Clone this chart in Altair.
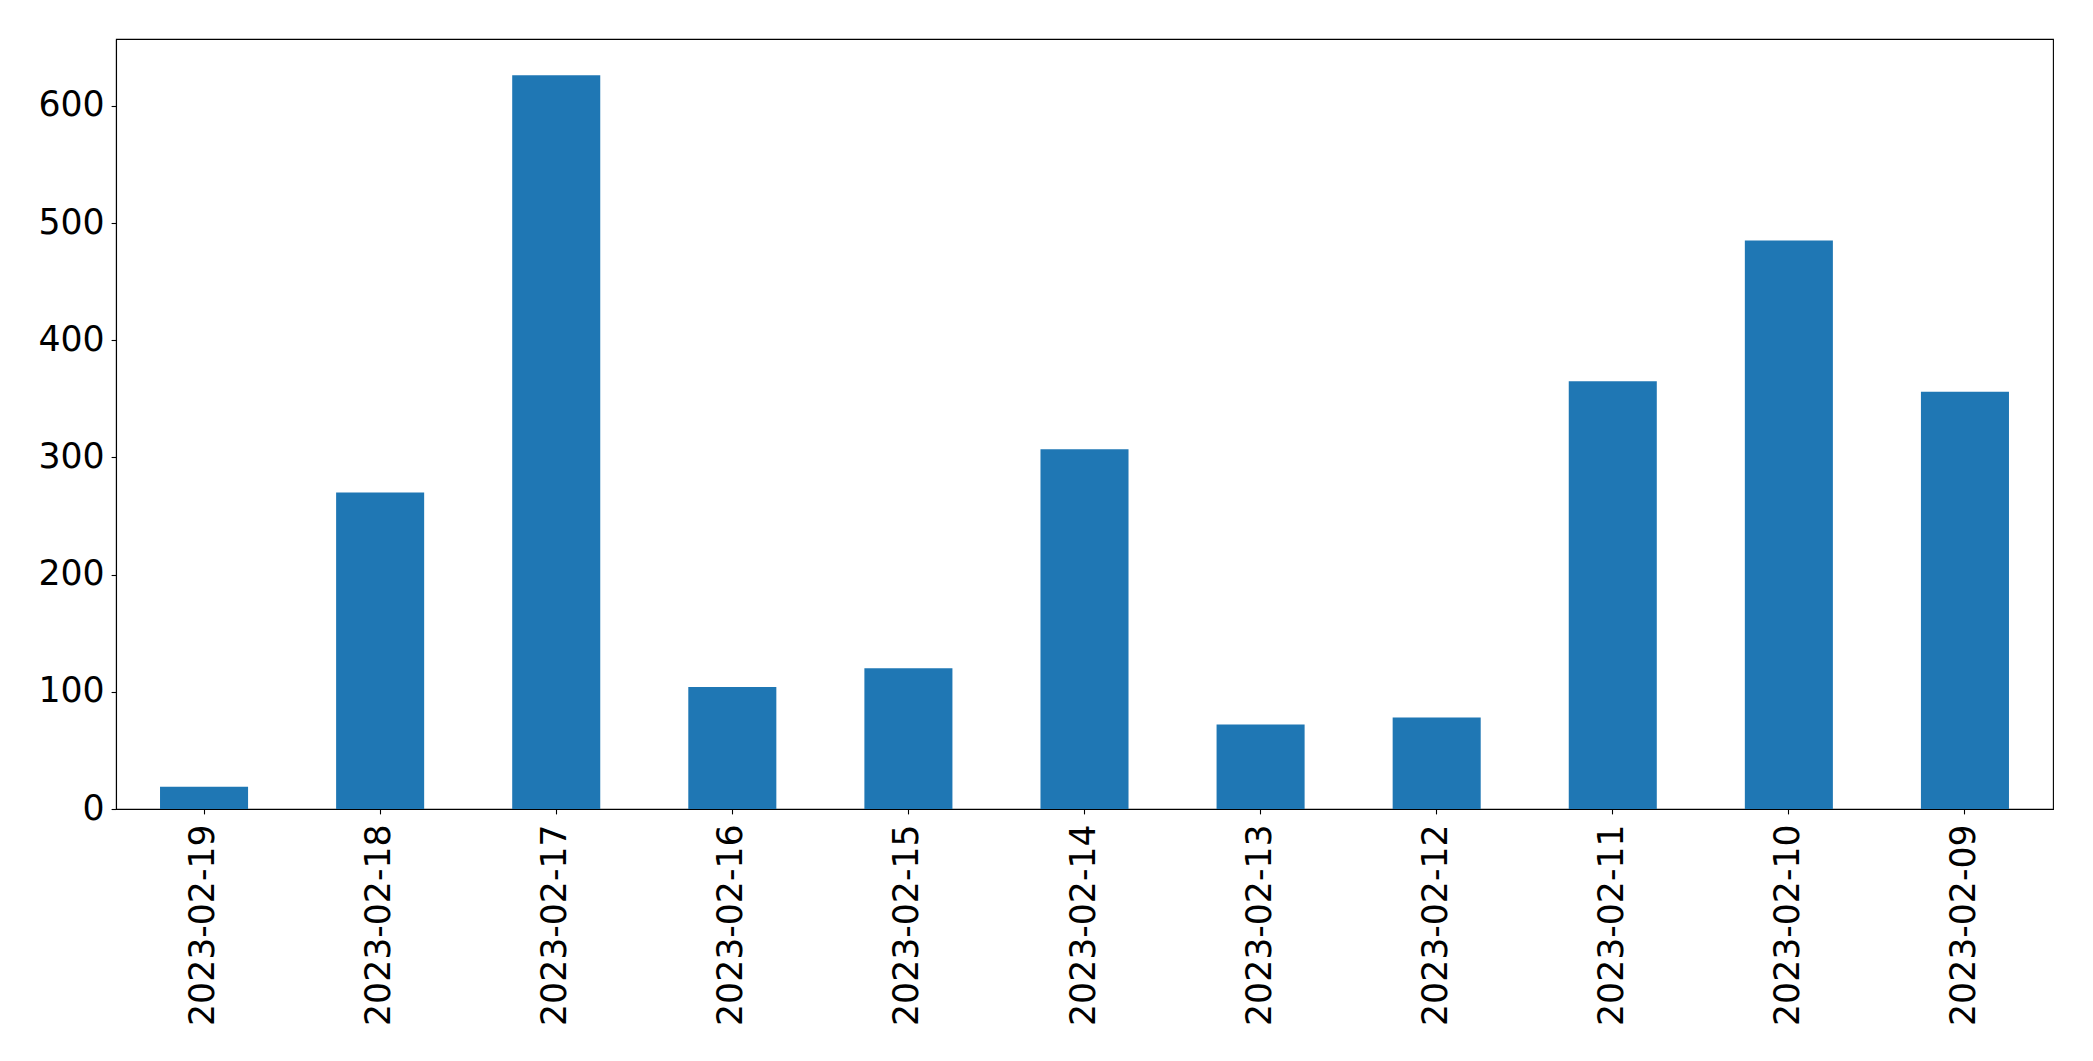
import altair as alt
import pandas as pd

dates = ["2023-02-19", "2023-02-18", "2023-02-17", "2023-02-16", "2023-02-15",
         "2023-02-14", "2023-02-13", "2023-02-12", "2023-02-11", "2023-02-10",
         "2023-02-09"]
counts = [19, 270, 626, 104, 120, 307, 72, 78, 365, 485, 356]

df = pd.DataFrame({"date": dates, "count": counts})

FONT = "DejaVu Sans"
FS = 34.7

chart = alt.Chart(df).mark_bar(color="#1f77b4").encode(
    x=alt.X("date:N", sort=None, title=None,
            scale=alt.Scale(paddingInner=0.5, paddingOuter=0.25),
            axis=alt.Axis(labelAngle=-90, labelFont=FONT, labelFontSize=FS,
                          labelColor="black", tickColor="black", tickSize=4.9,
                          tickWidth=1.1, domainColor="black", domainWidth=1.1,
                          labelPadding=10, labelBaseline="middle", labelAlign="right",
                          labelLimit=0)),
    y=alt.Y("count:Q", title=None,
            scale=alt.Scale(domain=[0, 657], nice=False, zero=True),
            axis=alt.Axis(values=[0, 100, 200, 300, 400, 500, 600], grid=False,
                          labelFont=FONT, labelFontSize=FS, labelColor="black",
                          tickColor="black", tickSize=4.9, tickWidth=1.1,
                          domainColor="black", domainWidth=1.1, labelPadding=7,
                          labelLimit=0)),
).properties(
    width=1937, height=770,
    background="white",
    autosize=alt.AutoSizeParams(type="none"),
    padding={"left": 108, "top": 31, "right": 32, "bottom": 230},
).configure_view(
    stroke="black", strokeWidth=1.1
)

chart.save("out.html", embed_options={"renderer": "svg", "actions": False})
